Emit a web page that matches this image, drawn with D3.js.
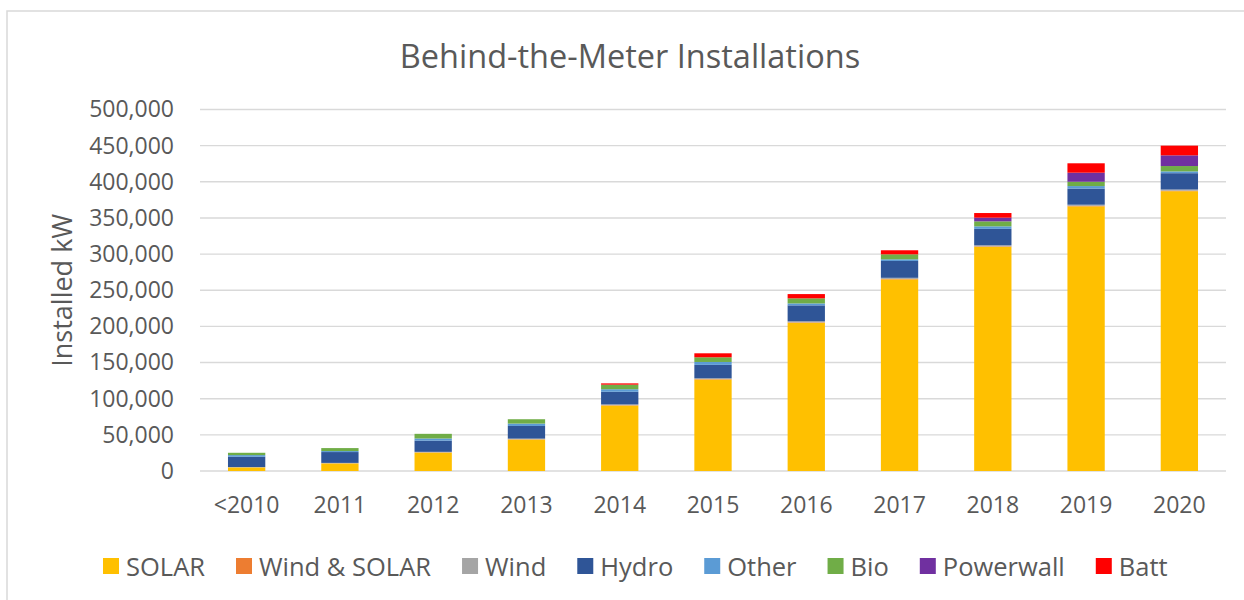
<!DOCTYPE html>
<html>
<head>
<meta charset="utf-8">
<script src="https://cdn.jsdelivr.net/npm/d3@7"></script>
<style>
  html, body { margin: 0; padding: 0; background: #fff; }
  svg { display: block; font-family: "Open Sans", sans-serif; }
</style>
</head>
<body>
<svg id="chart" width="1244" height="600"></svg>
<script>
// Installed capacity (kW) by year and technology
const categories = ["<2010", "2011", "2012", "2013", "2014", "2015", "2016", "2017", "2018", "2019", "2020"];
const seriesNames = ["SOLAR", "Wind & SOLAR", "Wind", "Hydro", "Other", "Bio", "Powerwall", "Batt"];
const solar      = [5000, 10500, 25500, 43500, 90500, 126500, 205000, 265000, 310000, 366000, 387000];
const windSolar  = [100, 200, 300, 400, 500, 600, 600, 700, 700, 700, 700];
const wind       = [400, 500, 700, 900, 1100, 1200, 1500, 1500, 1500, 1600, 1600];
const hydro      = [14200, 15000, 15500, 17500, 17500, 18500, 22000, 23300, 22700, 22300, 22600];
const other      = [2300, 1400, 3000, 3300, 3500, 4000, 2700, 2300, 3500, 3500, 2500];
const bio        = [3200, 4100, 6400, 6000, 6300, 6500, 7000, 6900, 6900, 6000, 7400];
const powerwall  = [0, 0, 0, 0, 0, 0, 0, 0, 5100, 12500, 14800];
const batt       = [0, 0, 0, 0, 1800, 5500, 5900, 5600, 6400, 13000, 13400];
const yTicks     = [0, 50000, 100000, 150000, 200000, 250000, 300000, 350000, 400000, 450000, 500000];

const seriesValues = [solar, windSolar, wind, hydro, other, bio, powerwall, batt];
const colors = ["#FFC000", "#ED7D31", "#A5A5A5", "#2F5597", "#5B9BD5", "#70AD47", "#7030A0", "#FF0000"];

const rows = categories.map((c, i) => {
  const r = { cat: c };
  seriesNames.forEach((s, k) => { r[s] = seriesValues[k][i]; });
  return r;
});

const svg = d3.select("#chart");
const textColor = "#595959";
const gridColor = "#d9d9d9";

// chart frame
svg.append("rect")
  .attr("x", 7).attr("y", 11)
  .attr("width", 1300).attr("height", 700)
  .attr("fill", "#fff")
  .attr("stroke", gridColor).attr("stroke-width", 1.5);

const plot = { left: 200, right: 1226, top: 109.5, bottom: 471 };

const x = d3.scaleBand()
  .domain(categories)
  .range([plot.left, plot.right])
  .paddingInner(0.6)
  .paddingOuter(0.3);

const y = d3.scaleLinear()
  .domain([0, 500000])
  .range([plot.bottom, plot.top]);

// gridlines
svg.append("g")
  .selectAll("line")
  .data(yTicks)
  .join("line")
  .attr("x1", plot.left).attr("x2", plot.right)
  .attr("y1", d => y(d)).attr("y2", d => y(d))
  .attr("stroke", gridColor).attr("stroke-width", 1.4);

// stacked bars
const stacked = d3.stack().keys(seriesNames)(rows);
svg.append("g")
  .selectAll("g")
  .data(stacked)
  .join("g")
  .attr("fill", (d, i) => colors[i])
  .selectAll("rect")
  .data(d => d)
  .join("rect")
  .attr("x", d => x(d.data.cat))
  .attr("width", x.bandwidth())
  .attr("y", d => y(d[1]))
  .attr("height", d => Math.max(0, y(d[0]) - y(d[1])));

// y axis
const yAxis = svg.append("g")
  .attr("transform", `translate(${plot.left},0)`)
  .call(d3.axisLeft(y).tickValues(yTicks).tickFormat(d3.format(",")).tickSize(0).tickPadding(26));
yAxis.select(".domain").remove();
yAxis.selectAll("text")
  .attr("fill", textColor)
  .style("font-size", "23px")
  .style("font-family", "'Open Sans', sans-serif");

// x axis
const xAxis = svg.append("g")
  .attr("transform", `translate(0,${plot.bottom})`)
  .call(d3.axisBottom(x).tickSize(0).tickPadding(26));
xAxis.select(".domain").remove();
xAxis.selectAll("text")
  .attr("fill", textColor)
  .style("font-size", "23px")
  .style("font-family", "'Open Sans', sans-serif");

// title
svg.append("text")
  .attr("x", 630).attr("y", 55)
  .attr("text-anchor", "middle")
  .attr("dominant-baseline", "central")
  .attr("fill", textColor)
  .style("font-size", "32.5px")
  .text("Behind-the-Meter Installations");

// y axis title
svg.append("text")
  .attr("transform", `translate(61,${(plot.top + plot.bottom) / 2}) rotate(-90)`)
  .attr("text-anchor", "middle")
  .attr("dominant-baseline", "central")
  .attr("fill", textColor)
  .style("font-size", "27px")
  .text("Installed kW");

// legend
const legend = svg.append("g");
let lx = 103;
const ly = 566;
seriesNames.forEach((name, i) => {
  const item = legend.append("g");
  item.append("rect")
    .attr("x", lx).attr("y", ly - 8)
    .attr("width", 16).attr("height", 16)
    .attr("fill", colors[i]);
  const t = item.append("text")
    .attr("x", lx + 23).attr("y", ly)
    .attr("dominant-baseline", "central")
    .attr("fill", textColor)
    .style("font-size", "25.5px")
    .text(name);
  lx += 23 + t.node().getComputedTextLength() + 31;
});
</script>
</body>
</html>
